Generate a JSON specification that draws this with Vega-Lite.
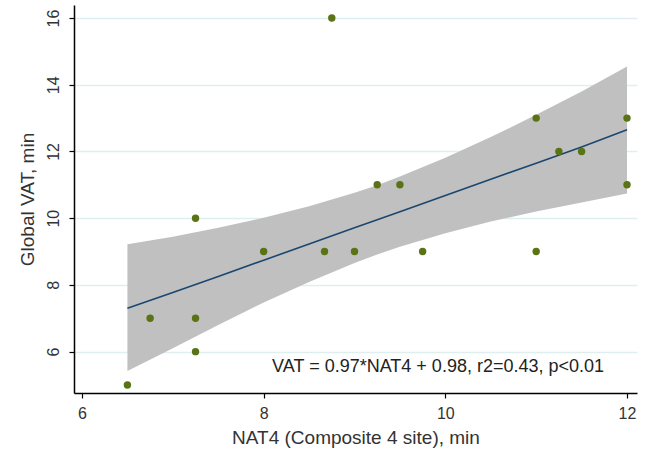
{
  "$schema": "https://vega.github.io/schema/vega-lite/v6.json",
  "width": 563,
  "height": 388,
  "autosize": {"type": "none"},
  "padding": {"left": 74, "top": 5, "right": 10, "bottom": 59},
  "background": "white",
  "config": {
    "view": {"stroke": null},
    "font": "Liberation Sans",
    "axis": {
      "labelFont": "Liberation Sans",
      "titleFont": "Liberation Sans",
      "labelFontSize": 16,
      "titleFontSize": 19,
      "labelColor": "#333333",
      "titleColor": "#333333",
      "titleFontWeight": "normal",
      "domainColor": "#000000",
      "domainWidth": 1.5,
      "tickColor": "#000000",
      "tickWidth": 1.2,
      "tickSize": 5
    }
  },
  "datasets": {
    "pts": [
      {"nat4": 6.5, "vat": 5},
      {"nat4": 6.75, "vat": 7},
      {"nat4": 7.25, "vat": 7},
      {"nat4": 7.25, "vat": 10},
      {"nat4": 7.25, "vat": 6},
      {"nat4": 8, "vat": 9},
      {"nat4": 8.67, "vat": 9},
      {"nat4": 9, "vat": 9},
      {"nat4": 8.75, "vat": 16},
      {"nat4": 9.25, "vat": 11},
      {"nat4": 9.5, "vat": 11},
      {"nat4": 9.75, "vat": 9},
      {"nat4": 11, "vat": 9},
      {"nat4": 11, "vat": 13},
      {"nat4": 11.25, "vat": 12},
      {"nat4": 11.5, "vat": 12},
      {"nat4": 12, "vat": 13},
      {"nat4": 12, "vat": 11}
    ],
    "band": [
      {"nat4": 6.5, "fit": 7.3, "lo": 5.42, "hi": 9.22},
      {"nat4": 7, "fit": 7.77, "lo": 6.1, "hi": 9.44},
      {"nat4": 7.5, "fit": 8.255, "lo": 6.8, "hi": 9.71},
      {"nat4": 8, "fit": 8.74, "lo": 7.47, "hi": 10.01},
      {"nat4": 8.5, "fit": 9.225, "lo": 8.09, "hi": 10.36},
      {"nat4": 9, "fit": 9.71, "lo": 8.66, "hi": 10.76},
      {"nat4": 9.25, "fit": 9.95, "lo": 8.91, "hi": 10.99},
      {"nat4": 9.5, "fit": 10.195, "lo": 9.14, "hi": 11.25},
      {"nat4": 10, "fit": 10.68, "lo": 9.55, "hi": 11.81},
      {"nat4": 10.5, "fit": 11.165, "lo": 9.9, "hi": 12.43},
      {"nat4": 11, "fit": 11.65, "lo": 10.2, "hi": 13.1},
      {"nat4": 11.5, "fit": 12.135, "lo": 10.47, "hi": 13.8},
      {"nat4": 12, "fit": 12.65, "lo": 10.74, "hi": 14.55}
    ],
    "note": [
      {"nat4": 9.92, "vat": 5.55, "label": "VAT = 0.97*NAT4 + 0.98, r2=0.43, p<0.01"}
    ]
  },
  "layer": [
    {
      "data": {"name": "band"},
      "mark": {"type": "area", "color": "#c0c0c0", "opacity": 1},
      "encoding": {
        "x": {
          "field": "nat4", "type": "quantitative",
          "scale": {"domain": [5.912, 12.11], "nice": false, "zero": false},
          "axis": {
            "values": [6, 8, 10, 12], "format": "d", "title": "NAT4 (Composite 4 site), min",
            "grid": false, "labelPadding": 7, "titlePadding": 7
          }
        },
        "y": {
          "field": "lo", "type": "quantitative",
          "scale": {"domain": [4.76, 16.39], "nice": false, "zero": false},
          "axis": {
            "values": [6, 8, 10, 12, 14, 16], "format": "d", "title": "Global VAT, min",
            "grid": true, "gridColor": "#dfeeee", "gridWidth": 1.5,
            "labelAngle": -90, "labelAlign": "center", "labelBaseline": "bottom",
            "labelPadding": 8, "titlePadding": 8
          }
        },
        "y2": {"field": "hi"}
      }
    },
    {
      "data": {"name": "band"},
      "mark": {"type": "line", "color": "#1a476f", "strokeWidth": 1.6},
      "encoding": {
        "x": {"field": "nat4", "type": "quantitative"},
        "y": {"field": "fit", "type": "quantitative"}
      }
    },
    {
      "data": {"name": "pts"},
      "mark": {"type": "circle", "color": "#5a7314", "opacity": 1, "size": 55},
      "encoding": {
        "x": {"field": "nat4", "type": "quantitative"},
        "y": {"field": "vat", "type": "quantitative"}
      }
    },
    {
      "data": {"name": "note"},
      "mark": {"type": "text", "fontSize": 18, "color": "#222222", "align": "center", "baseline": "middle", "font": "Liberation Sans"},
      "encoding": {
        "x": {"field": "nat4", "type": "quantitative"},
        "y": {"field": "vat", "type": "quantitative"},
        "text": {"field": "label"}
      }
    }
  ]
}
